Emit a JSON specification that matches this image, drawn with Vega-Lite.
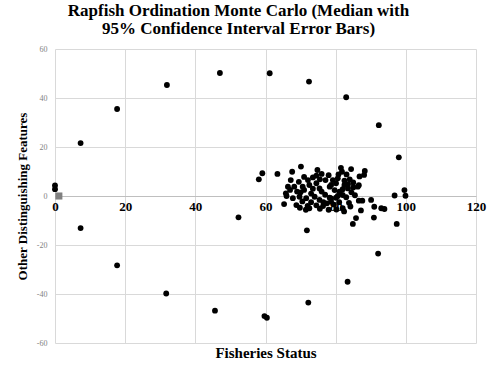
{
  "$schema": "https://vega.github.io/schema/vega-lite/v6.json",
  "width": 421,
  "height": 294,
  "autosize": {"type": "none"},
  "padding": {"left": 55, "top": 49, "right": 21, "bottom": 26},
  "background": "white",
  "config": {"view": {"stroke": null}, "font": "Liberation Serif"},
  "title": {
    "text": ["Rapfish Ordination Monte Carlo (Median with", "95% Confidence Interval Error Bars)"],
    "font": "Liberation Serif",
    "fontSize": 17,
    "fontWeight": "bold",
    "color": "black",
    "anchor": "middle",
    "dx": -27,
    "dy": 2,
    "offset": 9,
    "lineHeight": 18
  },
  "datasets": {
    "mc": [
      {"status": 0, "other": 4.3}, {"status": 0, "other": 2.8},
      {"status": 7.3, "other": 21.6}, {"status": 17.7, "other": 35.5}, {"status": 31.9, "other": 45.3},
      {"status": 47, "other": 50.2}, {"status": 61.2, "other": 50.1}, {"status": 72.4, "other": 46.7},
      {"status": 83.0, "other": 40.3}, {"status": 92.3, "other": 28.9}, {"status": 98.0, "other": 15.8},
      {"status": 99.6, "other": 2.4}, {"status": 99.9, "other": 0.1}, {"status": 96.8, "other": 0.2},
      {"status": 7.3, "other": -13.1}, {"status": 17.7, "other": -28.3}, {"status": 31.7, "other": -39.8},
      {"status": 45.6, "other": -46.8}, {"status": 59.7, "other": -49.0}, {"status": 60.4, "other": -49.7},
      {"status": 72.2, "other": -43.5}, {"status": 83.4, "other": -35.0}, {"status": 92.1, "other": -23.5},
      {"status": 71.8, "other": -14.0}, {"status": 52.3, "other": -8.7}, {"status": 97.4, "other": -11.4},
      {"status": 84.9, "other": -11.4}, {"status": 85.8, "other": -9.0}, {"status": 87.2, "other": -5.9},
      {"status": 90.9, "other": -8.8}, {"status": 91.0, "other": -4.4}, {"status": 93.0, "other": -5.0},
      {"status": 93.9, "other": -5.3}, {"status": 82.4, "other": -6.3}, {"status": 82.0, "other": -5.0},
      {"status": 87.6, "other": -1.9}, {"status": 90.1, "other": -1.6}, {"status": 86.6, "other": -1.9},
      {"status": 83.8, "other": -2.8}, {"status": 65.3, "other": -3.3}, {"status": 72.5, "other": -5.0},
      {"status": 68.8, "other": -3.7}, {"status": 76.4, "other": -4.1}, {"status": 78.7, "other": -2.3},
      {"status": 78.7, "other": -1.0},
      {"status": 58.1, "other": 6.8}, {"status": 59.1, "other": 9.3}, {"status": 63.4, "other": 9.0},
      {"status": 67.6, "other": 9.9}, {"status": 70.1, "other": 12.0}, {"status": 74.8, "other": 10.6},
      {"status": 84.4, "other": 11.0}, {"status": 88.3, "other": 10.2}, {"status": 88.1, "other": 8.6},
      {"status": 81.8, "other": 9.9}, {"status": 83.1, "other": 8.8}, {"status": 65.8, "other": 1.1},
      {"status": 69.5, "other": 5.8}, {"status": 72.1, "other": 6.5}, {"status": 74.5, "other": 8.3},
      {"status": 77.1, "other": 6.5}, {"status": 74.5, "other": 5.2}, {"status": 68.2, "other": 3.8},
      {"status": 70.6, "other": 3.8}, {"status": 72.5, "other": 4.5}, {"status": 75.4, "other": 3.1},
      {"status": 78.3, "other": 3.8}, {"status": 79.2, "other": 6.5}, {"status": 67.8, "other": -0.9},
      {"status": 69.7, "other": -0.3}, {"status": 71.6, "other": -0.9}, {"status": 74.0, "other": -0.3},
      {"status": 75.4, "other": -1.6}, {"status": 78.3, "other": -0.7}, {"status": 80.6, "other": 7.2},
      {"status": 80.1, "other": 5.2}, {"status": 78.7, "other": 4.5}, {"status": 82.5, "other": 4.5},
      {"status": 86.3, "other": 3.8}, {"status": 86.6, "other": 4.4}, {"status": 83.5, "other": 3.1},
      {"status": 79.7, "other": 2.4}, {"status": 81.1, "other": 1.8}, {"status": 80.1, "other": -0.7},
      {"status": 82.0, "other": 0.4}, {"status": 80.6, "other": 0.0}, {"status": 85.0, "other": 3.5},
      {"status": 70.0, "other": 1.5}, {"status": 71.0, "other": 2.5}, {"status": 73.0, "other": 1.0},
      {"status": 73.5, "other": 3.0}, {"status": 76.0, "other": 1.8}, {"status": 77.0, "other": 0.5},
      {"status": 76.5, "other": -2.5}, {"status": 73.0, "other": -2.5}, {"status": 70.5, "other": -2.2},
      {"status": 69.0, "other": 1.8}, {"status": 72.0, "other": -4.0}, {"status": 74.5, "other": -3.8},
      {"status": 77.5, "other": -3.0}, {"status": 79.5, "other": -3.5}, {"status": 81.0, "other": -2.5},
      {"status": 84.5, "other": 1.5}, {"status": 83.0, "other": -0.5}, {"status": 85.5, "other": 0.3},
      {"status": 82.5, "other": 6.3}, {"status": 84.0, "other": 6.8}, {"status": 76.0, "other": 9.0},
      {"status": 78.0, "other": 8.5}, {"status": 80.8, "other": 8.8}, {"status": 71.0, "other": 7.8},
      {"status": 67.2, "other": 6.5}, {"status": 66.4, "other": 3.8}, {"status": 75.5, "other": 6.8},
      {"status": 73.5, "other": 7.6}, {"status": 82.0, "other": 2.8}, {"status": 84.2, "other": -4.3},
      {"status": 80.2, "other": -5.5}, {"status": 69.8, "other": -4.8}, {"status": 71.5, "other": -5.6},
      {"status": 75.5, "other": -5.2}, {"status": 78.0, "other": -5.6}, {"status": 81.5, "other": 11.5},
      {"status": 83.5, "other": 4.8}, {"status": 85.0, "other": 5.5}, {"status": 86.8, "other": 8.0},
      {"status": 66.0, "other": 0.0}, {"status": 67.0, "other": 2.5}
    ],
    "ref": [{"status": 1.1, "other": 0}]
  },
  "layer": [
    {
      "data": {"name": "mc"},
      "mark": {"type": "point", "shape": "circle", "filled": true, "color": "black", "size": 34, "opacity": 1},
      "encoding": {
        "x": {
          "field": "status", "type": "quantitative",
          "scale": {"domain": [0, 120], "nice": false, "zero": false},
          "axis": {
            "values": [0, 20, 40, 60, 80, 100, 120],
            "grid": true, "gridColor": "#d9d9d9", "gridWidth": 1,
            "domain": true, "domainColor": "#bfbfbf",
            "ticks": false,
            "labelFont": "Liberation Serif", "labelFontWeight": "bold", "labelFontSize": 13, "labelColor": "black",
            "labelPadding": 4, "labelFlush": false, "labelOverlap": false,
            "offset": -147,
            "title": "Fisheries Status",
            "titleFont": "Liberation Serif", "titleFontSize": 15, "titleFontWeight": "bold", "titleColor": "black",
            "titleY": 156, "titleBaseline": "middle"
          }
        },
        "y": {
          "field": "other", "type": "quantitative",
          "scale": {"domain": [-60, 60], "nice": false, "zero": false},
          "axis": {
            "values": [-60, -40, -20, 0, 20, 40, 60],
            "grid": true, "gridColor": "#d9d9d9", "gridWidth": 1,
            "domain": false, "ticks": false,
            "labelFont": "Liberation Serif", "labelFontSize": 8, "labelColor": "#7f7f7f", "labelPadding": 8,
            "labelExpr": "replace(datum.label, '−', '-')",
            "title": "Other Distinguishing Features",
            "titleFont": "Liberation Serif", "titleFontSize": 13, "titleFontWeight": "bold", "titleColor": "black",
            "titleX": -33, "titleY": 147, "titleAngle": -90, "titleAlign": "center", "titleBaseline": "middle"
          }
        }
      }
    },
    {
      "data": {"name": "ref"},
      "mark": {"type": "point", "shape": "square", "filled": true, "color": "#808080", "size": 50, "opacity": 1},
      "encoding": {
        "x": {"field": "status", "type": "quantitative"},
        "y": {"field": "other", "type": "quantitative"}
      }
    }
  ]
}
